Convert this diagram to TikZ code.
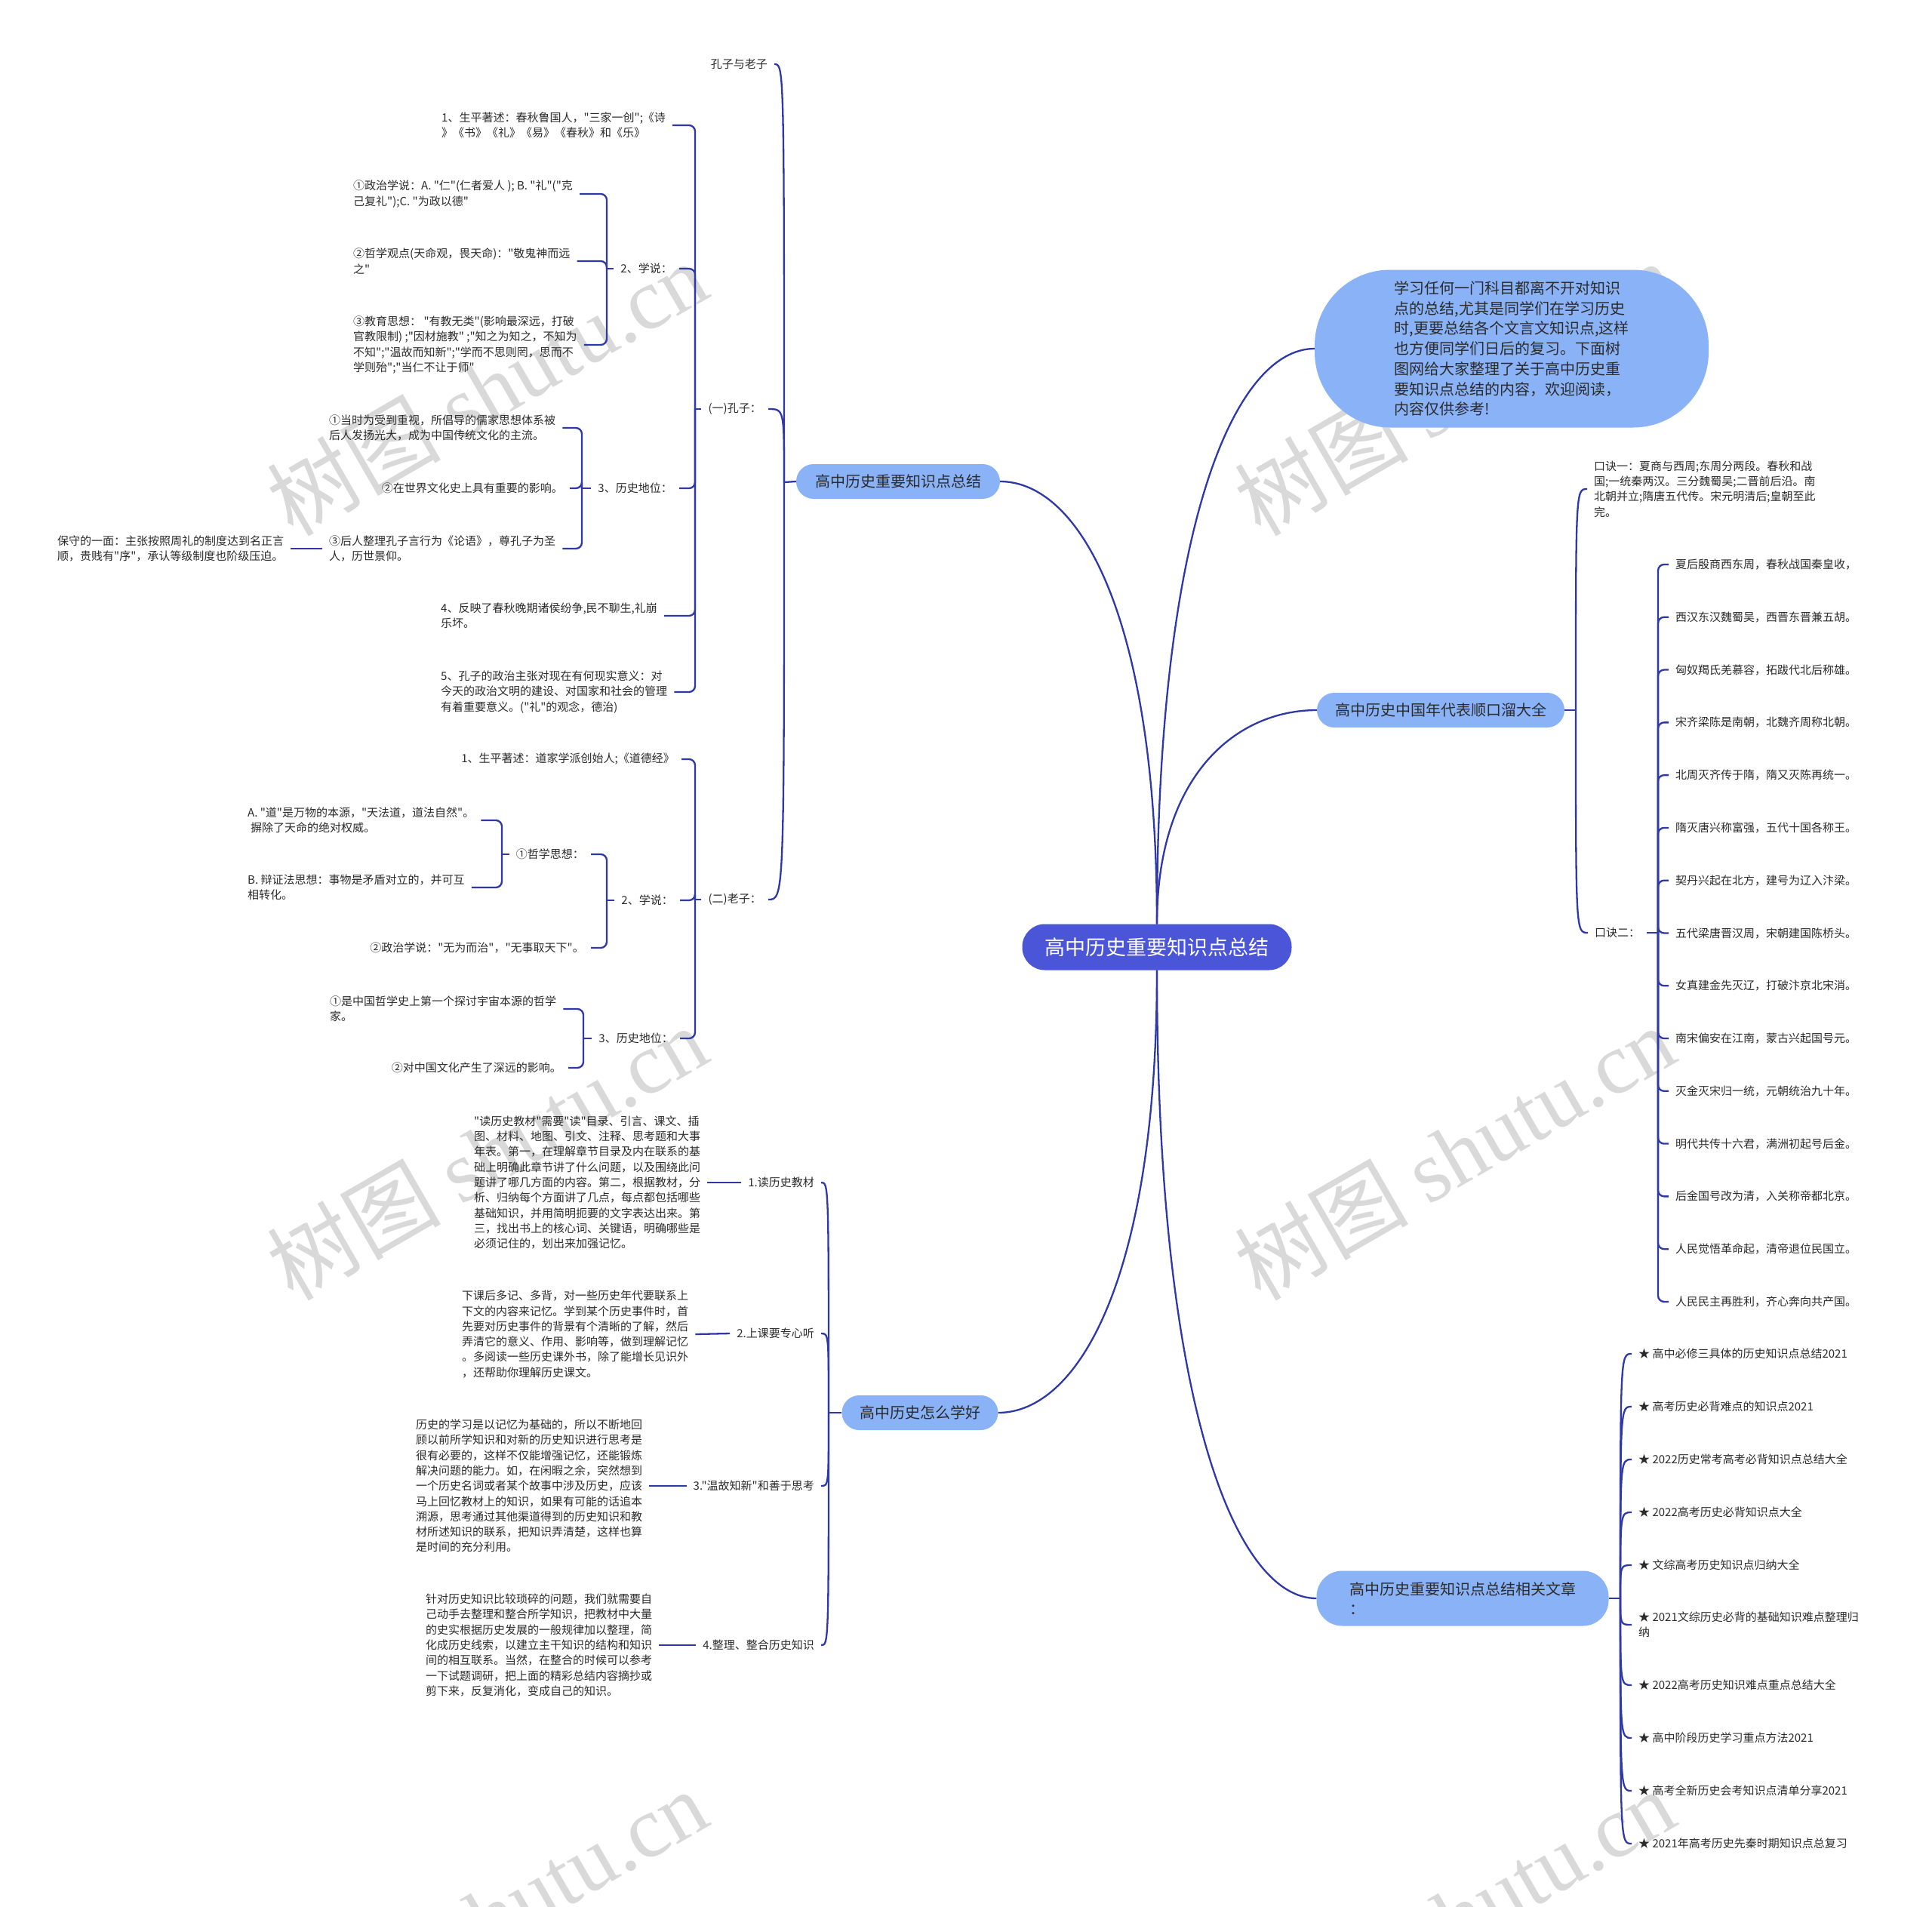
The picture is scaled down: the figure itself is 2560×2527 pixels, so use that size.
\documentclass[tikz,border=0pt]{standalone}
\usepackage{fontspec}
\setmainfont{Noto Sans CJK SC}[Ligatures=TeXOff]
\newfontfamily\wmlatin{Liberation Serif}
\usetikzlibrary{calc}
\definecolor{conn}{HTML}{2E38A6}
\definecolor{rootc}{HTML}{4B55D8}
\definecolor{lightb}{HTML}{8AB2F7}
\definecolor{txtc}{HTML}{2B2B2B}
\tikzset{
  link/.style={draw=conn, line width=2.3pt},
  brk/.style={draw=conn, line width=2.3pt, rounded corners=8pt},
  mmcurve/.style={to path={.. controls ($(\tikztostart)!0.7!(\tikztostart |- \tikztotarget)$) and ($(\tikztotarget)!0.5!(\tikztotarget -| \tikztostart)$) .. (\tikztotarget)}},
  spn/.style={to path={.. controls (\tikztostart |- \tikztotarget) .. (\tikztotarget)}},
  leaf/.style={text=txtc, font=\fontsize{15}{20.3}\selectfont, align=left, inner xsep=9pt, inner ysep=2pt},
  branch/.style={fill=lightb, text=txtc, font=\fontsize{20}{26}\selectfont, align=left, rounded corners=23pt, minimum height=46pt, inner sep=0pt},
  rootnode/.style={fill=rootc, text=white, font=\fontsize{27}{32}\selectfont, rounded corners=30pt, minimum width=357pt, minimum height=61pt, inner sep=0pt},
  bubble/.style={fill=lightb, text=txtc, font=\fontsize{20}{26.7}\selectfont, align=left, minimum width=522pt, minimum height=209pt, rounded corners=100pt, inner sep=0pt},
  wm/.style={text=gray!30, font=\fontsize{115}{115}\selectfont, rotate=30},
}
\begin{document}
\begin{tikzpicture}[x=1pt,y=-1pt]
\path[use as bounding box] (0,0) rectangle (2560,2527);
\fill[white] (0,0) rectangle (2560,2527);
\begin{scope}
\clip (0,0) rectangle (2560,2527);
\node[wm] (w1) at (645,514) {树图 {\wmlatin shutu.cn}};
\node[wm] (w2) at (1927,514) {树图 {\wmlatin shutu.cn}};
\node[wm] (w3) at (645,1527) {树图 {\wmlatin shutu.cn}};
\node[wm] (w4) at (1927,1527) {树图 {\wmlatin shutu.cn}};
\node[wm] (w5) at (645,2539) {树图 {\wmlatin shutu.cn}};
\node[wm] (w6) at (1927,2539) {树图 {\wmlatin shutu.cn}};
\end{scope}

% main nodes
\node[rootnode] (root) at (1533,1255) {高中历史重要知识点总结};
\node[branch, minimum width=270pt] (b1) at (1190,638) {高中历史重要知识点总结};
\node[branch, minimum width=328pt] (b2) at (1909,941) {高中历史中国年代表顺口溜大全};
\node[branch, minimum width=207pt] (b3) at (1219,1872) {高中历史怎么学好};
\node[branch, minimum width=387pt, minimum height=73pt, rounded corners=34pt] (b4) at (1938,2118) {高中历史重要知识点总结相关文章\\：};
\node[bubble] (intro) at (2003,462) {学习任何一门科目都离不开对知识\\点的总结,尤其是同学们在学习历史\\时,更要总结各个文言文知识点,这样\\也方便同学们日后的复习。下面树\\图网给大家整理了关于高中历史重\\要知识点总结的内容，欢迎阅读，\\内容仅供参考!};

\draw[link] (root.north) to[mmcurve] (b1.east);
\draw[link] (root.north) to[mmcurve] (intro.west);
\draw[link] (root.north) to[mmcurve] (b2.west);
\draw[link] (root.south) to[mmcurve] (b3.east);
\draw[link] (root.south) to[mmcurve] (b4.west);

% ---------- branch 1 ----------
\coordinate (j1) at (1039,639);
\node[leaf, anchor=east] (kzlz) at (1026,85) {孔子与老子};
\node[leaf, anchor=east] (kz) at (1018,542) {(一)孔子：};
\node[leaf, anchor=east] (lz) at (1018,1192) {(二)老子：};
\draw[link] (b1.west) -- (j1);
\draw[link] (j1) to[spn] (kzlz.east);
\draw[link] (j1) to[spn] (kz.east);
\draw[link] (j1) to[spn] (lz.east);

% Kongzi
\coordinate (jk) at (921,542);
\node[leaf, anchor=west] (k1) at (576,166) {1、生平著述：春秋鲁国人，"三家一创";《诗\\》《书》《礼》《易》《春秋》和《乐》};
\node[leaf, anchor=east] (k2) at (900,356) {2、学说：};
\node[leaf, anchor=east] (k3) at (900,647) {3、历史地位：};
\node[leaf, anchor=west] (k4) at (575,816) {4、反映了春秋晚期诸侯纷争,民不聊生,礼崩\\乐坏。};
\node[leaf, anchor=west] (k5) at (575,917) {5、孔子的政治主张对现在有何现实意义：对\\今天的政治文明的建设、对国家和社会的管理\\有着重要意义。("礼"的观念，德治)};
\draw[link] (kz.west) -- (jk);
\draw[brk] (jk) |- (k1.east);
\draw[brk] (jk) |- (k2.east);
\draw[brk] (jk) |- (k3.east);
\draw[brk] (jk) |- (k4.east);
\draw[brk] (jk) |- (k5.east);

\coordinate (jk2) at (804,356);
\node[leaf, anchor=west] (k2a) at (459,257) {①政治学说：A. "仁"(仁者爱人 ); B. "礼"("克\\己复礼");C. "为政以德"};
\node[leaf, anchor=west] (k2b) at (459,346) {②哲学观点(天命观，畏天命)："敬鬼神而远\\之"};
\node[leaf, anchor=west] (k2c) at (459,457) {③教育思想： "有教无类"(影响最深远，打破\\官教限制) ;"因材施教" ;"知之为知之，不知为\\不知";"温故而知新";"学而不思则罔，思而不\\学则殆";"当仁不让于师"};
\draw[link] (k2.west) -- (jk2);
\draw[brk] (jk2) |- (k2a.east);
\draw[brk] (jk2) |- (k2b.east);
\draw[brk] (jk2) |- (k2c.east);

\coordinate (jk3) at (771,647);
\node[leaf, anchor=west] (k3a) at (427,567) {①当时为受到重视，所倡导的儒家思想体系被\\后人发扬光大，成为中国传统文化的主流。};
\node[leaf, anchor=east] (k3b) at (755,647) {②在世界文化史上具有重要的影响。};
\node[leaf, anchor=west] (k3c) at (427,727) {③后人整理孔子言行为《论语》，尊孔子为圣\\人，历世景仰。};
\node[leaf, anchor=west] (k3c1) at (67,727) {保守的一面：主张按照周礼的制度达到名正言\\顺，贵贱有"序"，承认等级制度也阶级压迫。};
\draw[link] (k3.west) -- (jk3);
\draw[brk] (jk3) |- (k3a.east);
\draw[brk] (jk3) |- (k3b.east);
\draw[brk] (jk3) |- (k3c.east);
\draw[link] (k3c.west) -- (k3c1.east);

% Laozi
\coordinate (jl) at (921,1192);
\node[leaf, anchor=east] (l1) at (903,1006) {1、生平著述：道家学派创始人;《道德经》};
\node[leaf, anchor=east] (l2) at (901,1193) {2、学说：};
\node[leaf, anchor=east] (l3) at (901,1376) {3、历史地位：};
\draw[link] (lz.west) -- (jl);
\draw[brk] (jl) |- (l1.east);
\draw[brk] (jl) |- (l2.east);
\draw[brk] (jl) |- (l3.east);

\coordinate (jl2) at (804,1193);
\node[leaf, anchor=east] (l2a) at (783,1132) {①哲学思想：};
\node[leaf, anchor=east] (l2b) at (783,1256) {②政治学说："无为而治"，"无事取天下"。};
\draw[link] (l2.west) -- (jl2);
\draw[brk] (jl2) |- (l2a.east);
\draw[brk] (jl2) |- (l2b.east);

\coordinate (jl2a) at (665,1132);
\node[leaf, anchor=west] (l2a1) at (319,1087) {A. "道"是万物的本源，"天法道，道法自然"。\\\hspace*{4pt}摒除了天命的绝对权威。};
\node[leaf, anchor=west] (l2a2) at (319,1176) {B. 辩证法思想：事物是矛盾对立的，并可互\\相转化。};
\draw[link] (l2a.west) -- (jl2a);
\draw[brk] (jl2a) |- (l2a1.east);
\draw[brk] (jl2a) |- (l2a2.east);

\coordinate (jl3) at (773,1376);
\node[leaf, anchor=west] (l3a) at (428,1337) {①是中国哲学史上第一个探讨宇宙本源的哲学\\家。};
\node[leaf, anchor=east] (l3b) at (753,1415) {②对中国文化产生了深远的影响。};
\draw[link] (l3.west) -- (jl3);
\draw[brk] (jl3) |- (l3a.east);
\draw[brk] (jl3) |- (l3b.east);

% ---------- branch 3 ----------
\coordinate (j3) at (1098,1872);
\node[leaf, anchor=east] (m1) at (1088,1567) {1.读历史教材};
\node[leaf, anchor=east] (m2) at (1088,1767) {2.上课要专心听};
\node[leaf, anchor=east] (m3) at (1088,1969) {3."温故知新"和善于思考};
\node[leaf, anchor=east] (m4) at (1088,2180) {4.整理、整合历史知识};
\draw[link] (b3.west) -- (j3);
\draw[link] (j3) to[spn] (m1.east);
\draw[link] (j3) to[spn] (m2.east);
\draw[link] (j3) to[spn] (m3.east);
\draw[link] (j3) to[spn] (m4.east);

\node[leaf, anchor=west] (m1d) at (619,1567) {"读历史教材"需要"读"目录、引言、课文、插\\图、材料、地图、引文、注释、思考题和大事\\年表。第一，在理解章节目录及内在联系的基\\础上明确此章节讲了什么问题，以及围绕此问\\题讲了哪几方面的内容。第二，根据教材，分\\析、归纳每个方面讲了几点，每点都包括哪些\\基础知识，并用简明扼要的文字表达出来。第\\三，找出书上的核心词、关键语，明确哪些是\\必须记住的，划出来加强记忆。};
\node[leaf, anchor=west] (m2d) at (603,1768) {下课后多记、多背，对一些历史年代要联系上\\下文的内容来记忆。学到某个历史事件时，首\\先要对历史事件的背景有个清晰的了解，然后\\弄清它的意义、作用、影响等，做到理解记忆\\。多阅读一些历史课外书，除了能增长见识外\\，还帮助你理解历史课文。};
\node[leaf, anchor=west] (m3d) at (542,1969) {历史的学习是以记忆为基础的，所以不断地回\\顾以前所学知识和对新的历史知识进行思考是\\很有必要的，这样不仅能增强记忆，还能锻炼\\解决问题的能力。如，在闲暇之余，突然想到\\一个历史名词或者某个故事中涉及历史，应该\\马上回忆教材上的知识，如果有可能的话追本\\溯源，思考通过其他渠道得到的历史知识和教\\材所述知识的联系，把知识弄清楚，这样也算\\是时间的充分利用。};
\node[leaf, anchor=west] (m4d) at (555,2180) {针对历史知识比较琐碎的问题，我们就需要自\\己动手去整理和整合所学知识，把教材中大量\\的史实根据历史发展的一般规律加以整理，简\\化成历史线索，以建立主干知识的结构和知识\\间的相互联系。当然，在整合的时候可以参考\\一下试题调研，把上面的精彩总结内容摘抄或\\剪下来，反复消化，变成自己的知识。};
\draw[link] (m1.west) -- (m1d.east);
\draw[link] (m2.west) -- (m2d.east);
\draw[link] (m3.west) -- (m3d.east);
\draw[link] (m4.west) -- (m4d.east);

% ---------- branch 2 ----------
\coordinate (j2) at (2088,941);
\node[leaf, anchor=west] (r1) at (2103,648) {口诀一：夏商与西周;东周分两段。春秋和战\\国;一统秦两汉。三分魏蜀吴;二晋前后沿。南\\北朝并立;隋唐五代传。宋元明清后;皇朝至此\\完。};
\node[leaf, anchor=west] (r2) at (2104,1236) {口诀二：};
\draw[link] (b2.east) -- (j2);
\draw[link] (j2) to[spn] (r1.west);
\draw[link] (j2) to[spn] (r2.west);

\coordinate (j5) at (2197,1236);
\draw[link] (r2.east) -- (j5);
\foreach \txt [count=\i] in {夏后殷商西东周，春秋战国秦皇收，,
  西汉东汉魏蜀吴，西晋东晋兼五胡。,
  匈奴羯氐羌慕容，拓跋代北后称雄。,
  宋齐梁陈是南朝，北魏齐周称北朝。,
  北周灭齐传于隋，隋又灭陈再统一。,
  隋灭唐兴称富强，五代十国各称王。,
  契丹兴起在北方，建号为辽入汴梁。,
  五代梁唐晋汉周，宋朝建国陈桥头。,
  女真建金先灭辽，打破汴京北宋消。,
  南宋偏安在江南，蒙古兴起国号元。,
  灭金灭宋归一统，元朝统治九十年。,
  明代共传十六君，满洲初起号后金。,
  后金国号改为清，入关称帝都北京。,
  人民觉悟革命起，清帝退位民国立。,
  人民民主再胜利，齐心奔向共产国。}{
  \node[leaf, anchor=west] (q\i) at (2211,{748+69.78*(\i-1)}) {\txt};
  \draw[brk] (j5) |- (q\i.west);
}

% ---------- branch 4 ----------
\coordinate (j4) at (2147,2118);
\draw[link] (b4.east) -- (j4);
\node[leaf, anchor=west] (a1) at (2162,1794) {★ 高中必修三具体的历史知识点总结2021};
\node[leaf, anchor=west] (a2) at (2162,1864) {★ 高考历史必背难点的知识点2021};
\node[leaf, anchor=west] (a3) at (2162,1934) {★ 2022历史常考高考必背知识点总结大全};
\node[leaf, anchor=west] (a4) at (2162,2004) {★ 2022高考历史必背知识点大全};
\node[leaf, anchor=west] (a5) at (2162,2074) {★ 文综高考历史知识点归纳大全};
\node[leaf, anchor=west] (a6) at (2162,2153) {★ 2021文综历史必背的基础知识难点整理归\\纳};
\node[leaf, anchor=west] (a7) at (2162,2233) {★ 2022高考历史知识难点重点总结大全};
\node[leaf, anchor=west] (a8) at (2162,2303) {★ 高中阶段历史学习重点方法2021};
\node[leaf, anchor=west] (a9) at (2162,2373) {★ 高考全新历史会考知识点清单分享2021};
\node[leaf, anchor=west] (a10) at (2162,2443) {★ 2021年高考历史先秦时期知识点总复习};
\foreach \i in {1,...,10}{
  \draw[link] (j4) to[spn] (a\i.west);
}
\end{tikzpicture}
\end{document}
